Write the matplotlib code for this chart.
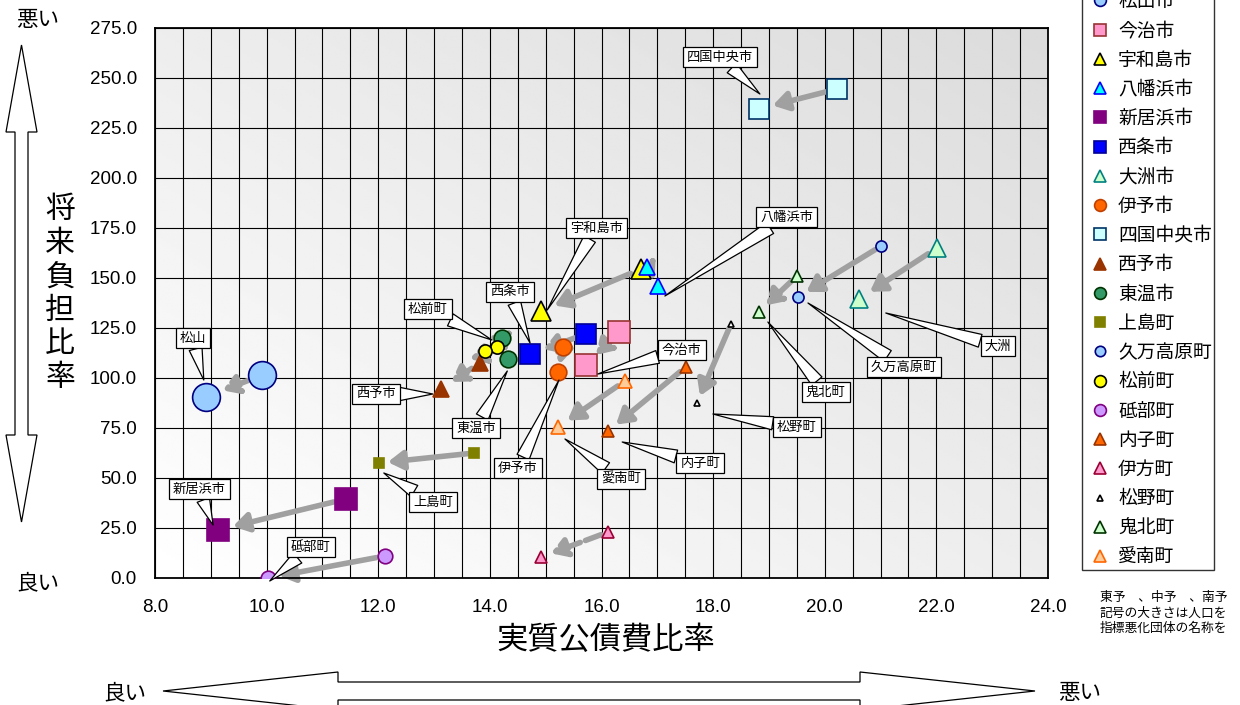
import numpy as np
import matplotlib.pyplot as plt
from matplotlib.lines import Line2D
from matplotlib.patches import Polygon
from matplotlib.transforms import offset_copy

plt.rcParams["font.family"] = ["Noto Sans CJK JP", "DejaVu Sans"]

# ── data: 実質公債費比率 (x) / 将来負担比率 (y), before -> after ─────────────
names = ["松山市", "今治市", "宇和島市", "八幡浜市", "新居浜市", "西条市", "大洲市",
         "伊予市", "四国中央市", "西予市", "東温市", "上島町", "久万高原町", "松前町",
         "砥部町", "内子町", "伊方町", "松野町", "鬼北町", "愛南町"]
debt_old = [9.92, 16.31, 16.71, 16.82, 11.42, 15.72, 22.01, 15.31, 20.22, 13.82,
            14.22, 13.72, 21.01, 14.13, 12.12, 17.51, 16.12, 18.32, 19.50, 16.42]
burden_old = [101.5, 123.0, 154.5, 155.5, 39.5, 122.0, 165.0, 115.5, 244.5, 107.5,
              120.0, 62.5, 166.0, 115.5, 11.0, 105.5, 23.0, 127.0, 151.0, 98.5]
debt_new = [8.91, 15.72, 14.92, 17.01, 9.13, 14.72, 20.61, 15.22, 18.82, 13.12,
            14.33, 12.01, 19.52, 13.91, 10.02, 16.12, 14.92, 17.71, 18.82, 15.22]
burden_new = [90.5, 106.5, 133.5, 146.0, 24.0, 112.0, 139.5, 103.0, 234.5, 94.5,
              109.5, 57.5, 140.5, 113.5, 0.0, 73.5, 10.5, 87.5, 133.0, 75.5]

x_ticks = [8.0, 10.0, 12.0, 14.0, 16.0, 18.0, 20.0, 22.0, 24.0]
y_ticks = [0.0, 25.0, 50.0, 75.0, 100.0, 125.0, 150.0, 175.0, 200.0, 225.0, 250.0, 275.0]

notes = ["東予　、中予　、南予", "記号の大きさは人口を", "指標悪化団体の名称を"]

# ── styles ──────────────────────────────────────────────────────────────────
markers = ["o", "s", "^", "^", "s", "s", "^", "o", "s", "^",
           "o", "s", "o", "o", "o", "^", "^", "^", "^", "^"]
sizes = [20, 16.5, 14.5, 12, 16, 14.5, 13, 12, 14.5, 12,
         12, 7, 8, 9.5, 10.5, 8.5, 9, 5, 8, 10.5]
faces = ["#99CCFF", "#FF99CC", "#FFFF00", "#00FFFF", "#800080", "#0000FF", "#CCFFCC",
         "#FF6600", "#CCFFFF", "#993300", "#339966", "#808000", "#99CCFF", "#FFFF00",
         "#CC99FF", "#FF6600", "#FF99CC", "#FFFFFF", "#CCFFCC", "#FFCC99"]
edges = ["#000080", "#993333", "#000000", "#0000FF", "#800080", "#000099", "#008080",
         "#C04000", "#003366", "#993300", "#003300", "#808000", "#000080", "#000000",
         "#800080", "#993300", "#990033", "#000000", "#003300", "#FF6600"]
legend_sizes = [8.5, 8.5, 8.5, 8.5, 8.5, 8.5, 8.5, 8.5, 8.5, 8.5,
                8.5, 6.5, 7.5, 8.5, 8.5, 8.5, 8.5, 5, 8.5, 8.5]
dashed = {"松山市", "今治市", "八幡浜市", "西条市", "伊予市", "西予市", "東温市",
          "松前町", "鬼北町", "伊方町"}
arrow_shift = {"松前町": (-15, 8)}      # pixels, arrow drawn beside the markers
ARROW = "#A0A0A0"

# callouts: label, municipality, tip offset (px), box offset (px) from new point
callouts = [
    ("四国中央市", "四国中央市", (1, -15), (-39, -52)),
    ("八幡浜市", "八幡浜市", (7, 10), (129, -69)),
    ("宇和島市", "宇和島市", (6, -1), (55, -83)),
    ("西条市", "西条市", (0, -11), (-20, -62)),
    ("松前町", "松前町", (7, -11), (-57, -42)),
    ("松山", "松山市", (-2, -17), (-13, -59)),
    ("西予市", "西予市", (-8, 5), (-65, 5)),
    ("東温市", "東温市", (-1, 12), (-32, 69)),
    ("上島町", "上島町", (5, 10), (54, 39)),
    ("新居浜市", "新居浜市", (-5, -5), (-19, -41)),
    ("砥部町", "砥部町", (2, 3), (43, -31)),
    ("伊予市", "伊予市", (1, 8), (-40, 96)),
    ("今治市", "今治市", (12, 9), (96, -15)),
    ("愛南町", "愛南町", (7, 12), (63, 52)),
    ("内子町", "内子町", (14, 11), (92, 32)),
    ("松野町", "松野町", (16, 11), (100, 24)),
    ("鬼北町", "鬼北町", (9, 10), (67, 80)),
    ("久万高原町", "久万高原町", (10, 6), (106, 70)),
    ("大洲", "大洲市", (27, 14), (139, 47)),
]

W, H = 1240, 705
fig = plt.figure(figsize=(W / 100, H / 100), dpi=100)
ax = fig.add_axes([155 / W, 1 - 578 / H, (1048 - 155) / W, (578 - 28) / H])
ax.set_xlim(8, 24)
ax.set_ylim(0, 275)

# gradient background
gx, gy = np.meshgrid(np.linspace(0, 1, 200), np.linspace(0, 1, 200))
shade = 1 - 0.14 * (gx + gy) / 2
ax.imshow(shade, extent=[8, 24, 0, 275], origin="lower", aspect="auto",
          cmap="gray", vmin=0, vmax=1, zorder=0)

ax.set_xticks(x_ticks)
ax.set_xticklabels([f"{v:.1f}" for v in x_ticks])
ax.set_xticks(np.arange(8, 24.01, 0.5), minor=True)
ax.set_yticks(y_ticks)
ax.set_yticklabels([f"{v:.1f}" for v in y_ticks])
ax.tick_params(which="both", length=0)
ax.tick_params(axis="x", pad=15)
ax.tick_params(axis="y", pad=13)
for lab in ax.get_xticklabels() + ax.get_yticklabels():
    lab.set_family("Liberation Sans")
    lab.set_fontsize(13.5)
ax.set_axisbelow(True)
ax.grid(which="both", axis="x", color="black", lw=0.8)
ax.grid(which="major", axis="y", color="black", lw=0.8)
for s in ax.spines.values():
    s.set_linewidth(1.3)

# arrows old -> new
pt = 72 / fig.dpi
for i, n in enumerate(names):
    p0, p1 = ax.transData.transform([[debt_old[i], burden_old[i]],
                                     [debt_new[i], burden_new[i]]])
    dist = np.hypot(*(p1 - p0)) * pt
    sa, sb = sizes[i] / 2 + 1, sizes[i] / 2 + 3
    if sa + sb > 0.55 * dist:
        k = 0.55 * dist / (sa + sb)
        sa, sb = sa * k, sb * k
    trans = ax.transData
    if n in arrow_shift:
        dx, dy = arrow_shift[n]
        trans = offset_copy(ax.transData, fig=fig, x=dx, y=-dy, units="dots")
        sa, sb = 0, 0
    ax.annotate("", xy=(debt_new[i], burden_new[i]), xycoords=trans,
                xytext=(debt_old[i], burden_old[i]), textcoords=trans,
                arrowprops=dict(arrowstyle="-|>,head_length=0.45,head_width=0.28",
                                mutation_scale=20, color=ARROW, lw=4,
                                ls=(0, (3, 1)) if n in dashed else "-",
                                shrinkA=sa, shrinkB=sb),
                zorder=2)

# markers
for i, n in enumerate(names):
    ax.plot([debt_old[i], debt_new[i]], [burden_old[i], burden_new[i]], ls="none",
            marker=markers[i], ms=sizes[i], mfc=faces[i], mec=edges[i], mew=1.2,
            zorder=3)

# callouts
idx = {n: i for i, n in enumerate(names)}
for label, n, (tx, ty), (bx, by) in callouts:
    i = idx[n]
    tip = offset_copy(ax.transData, fig=fig, x=tx, y=-ty, units="dots")
    box = offset_copy(ax.transData, fig=fig, x=bx, y=-by, units="dots")
    ax.annotate(label, xy=(debt_new[i], burden_new[i]), xycoords=tip,
                xytext=(debt_new[i], burden_new[i]), textcoords=box,
                ha="center", va="center", fontsize=9.5, zorder=5,
                bbox=dict(boxstyle="square,pad=0.3", fc="white", ec="black", lw=0.9),
                arrowprops=dict(arrowstyle="wedge,tail_width=1.0", fc="white",
                                ec="black", lw=0.9, shrinkA=0, shrinkB=0))

# legend (its top runs past the figure edge, as in the source chart)
handles = [Line2D([], [], ls="none", marker=markers[i], ms=legend_sizes[i],
                  mfc=faces[i], mec=edges[i], mew=1.2, label=n)
           for i, n in enumerate(names)]
leg = fig.legend(handles=handles, loc="lower left",
                 bbox_to_anchor=(1082 / W, 1 - 570 / H), fontsize=13.5,
                 frameon=True, fancybox=False, edgecolor="black",
                 labelspacing=0.44, handlelength=1.7, handletextpad=0.1,
                 borderpad=0.12, borderaxespad=0)
leg.get_frame().set_linewidth(1.0)

# axis titles and good/bad hints
fig.text(606 / W, 1 - 640 / H, "実質公債費比率", fontsize=22.5, ha="center", va="center")
for k, ch in enumerate("将来負担比率"):
    fig.text(60 / W, 1 - (210 + 33.4 * k) / H, ch, fontsize=21.5, ha="center", va="center")
fig.text(38 / W, 1 - 20 / H, "悪い", fontsize=15.5, ha="center", va="center")
fig.text(38 / W, 1 - 583 / H, "良い", fontsize=15.5, ha="center", va="center")
fig.text(125 / W, 1 - 693 / H, "良い", fontsize=15.5, ha="center", va="center")
fig.text(1080 / W, 1 - 693 / H, "悪い", fontsize=15.5, ha="center", va="center")

for k, t in enumerate(notes):
    fig.text(1100 / W, 1 - (598 + 15 * k) / H, t, fontsize=9.2, ha="left", va="center")


def double_arrow(a0, a1, c, head_len, head_half, shaft_half, vertical):
    pts = [(a0, c), (a0 + head_len, c - head_half), (a0 + head_len, c - shaft_half),
           (a1 - head_len, c - shaft_half), (a1 - head_len, c - head_half), (a1, c),
           (a1 - head_len, c + head_half), (a1 - head_len, c + shaft_half),
           (a0 + head_len, c + shaft_half), (a0 + head_len, c + head_half)]
    if vertical:
        pts = [(q, p) for p, q in pts]
    verts = [(x / W, 1 - y / H) for x, y in pts]
    fig.patches.append(Polygon(verts, closed=True, fc="white", ec="black", lw=0.9,
                               transform=fig.transFigure, figure=fig))


double_arrow(45, 522, 21.5, 87, 15.5, 6.5, vertical=True)
double_arrow(163, 1035, 691, 175, 19, 9, vertical=False)

fig.savefig("out.png", dpi=100)
